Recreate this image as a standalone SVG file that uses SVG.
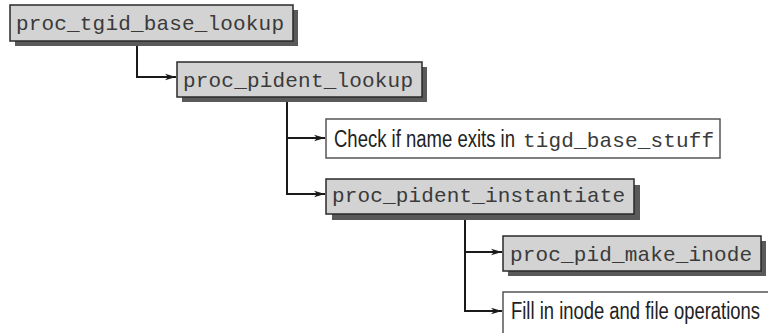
<svg xmlns="http://www.w3.org/2000/svg" width="768" height="333" viewBox="0 0 768 333">
<style>
.box{fill:#d3d3d3;stroke:#2a2a2a;stroke-width:1.5}
.shadow{fill:#5a5a5a}
.note{fill:#fff;stroke:#555;stroke-width:1.5}
.mono{font-family:"Liberation Mono","Courier New",monospace;font-size:21px;fill:#3a3a3a}
.sans{font-family:"Liberation Sans Narrow","Liberation Sans",Arial,sans-serif;font-size:23px;fill:#222}
.conn{fill:none;stroke:#1a1a1a;stroke-width:2}
</style>
<defs>
<marker id="arr" markerWidth="12" markerHeight="8" refX="11" refY="4" orient="auto" markerUnits="userSpaceOnUse">
<path d="M0,0.8 L11,4 L0,7.2 L3,4 Z" fill="#1a1a1a"/>
</marker>
</defs>
<rect x="0" y="0" width="768" height="333" fill="#fff"/>
<g id="connectors">
<path class="conn" d="M137,41 V77 H176" marker-end="url(#arr)"/>
<path class="conn" d="M287,97 V138 H325" marker-end="url(#arr)"/>
<path class="conn" d="M287,138 V194 H325" marker-end="url(#arr)"/>
<path class="conn" d="M465,214 V252 H502" marker-end="url(#arr)"/>
<path class="conn" d="M465,252 V311 H502" marker-end="url(#arr)"/>
</g>
<g id="n1">
<rect class="shadow" x="15" y="10" width="283" height="36"/>
<rect class="box" x="10" y="5" width="283" height="36"/>
<text class="mono" x="16" y="30" textLength="268">proc_tgid_base_lookup</text>
</g>
<g id="n2">
<rect class="shadow" x="182" y="67" width="245" height="35"/>
<rect class="box" x="177" y="62" width="245" height="35"/>
<text class="mono" x="183" y="87" textLength="230">proc_pident_lookup</text>
</g>
<g id="n3">
<rect class="note" x="326" y="119" width="394" height="39"/>
<text y="147"><tspan class="sans" x="334" textLength="181" lengthAdjust="spacingAndGlyphs">Check if name exits in</tspan><tspan class="mono" x="523" textLength="191">tigd_base_stuff</tspan></text>
</g>
<g id="n4">
<rect class="shadow" x="332" y="185" width="308" height="35"/>
<rect class="box" x="326" y="179" width="308" height="35"/>
<text class="mono" x="332" y="202" textLength="293">proc_pident_instantiate</text>
</g>
<g id="n5">
<rect class="shadow" x="508" y="241" width="258" height="35"/>
<rect class="box" x="503" y="236" width="258" height="35"/>
<text class="mono" x="510" y="261" textLength="242">proc_pid_make_inode</text>
</g>
<g id="n6">
<rect class="note" x="503" y="292" width="280" height="60"/>
<text class="sans" x="511" y="319" textLength="249" lengthAdjust="spacingAndGlyphs">Fill in inode and file operations</text>
</g>
</svg>
